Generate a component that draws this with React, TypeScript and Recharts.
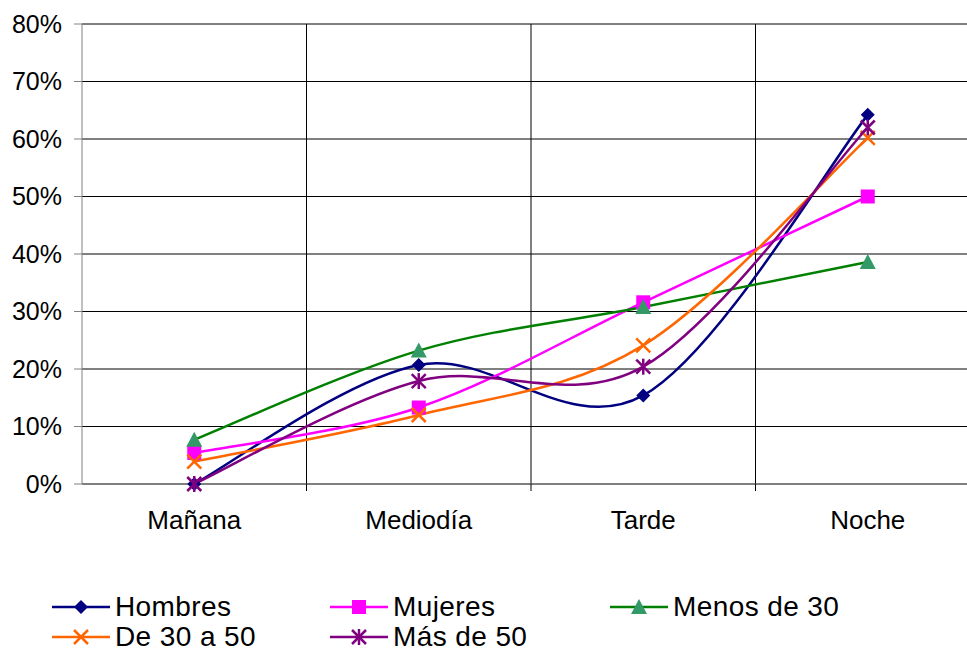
import React from 'react';
import { LineChart, Line, XAxis, YAxis, CartesianGrid } from 'recharts';

const categories = ['Mañana', 'Mediodía', 'Tarde', 'Noche'];
const hombres = [0, 20.7, 15.4, 64.2];
const mujeres = [5.4, 13.3, 31.6, 50];
const menos30 = [7.7, 23.2, 30.8, 38.6];
const de30a50 = [3.9, 12.0, 24.1, 60.2];
const mas50 = [0, 17.9, 20.4, 62.0];
const yTicks = [0, 10, 20, 30, 40, 50, 60, 70, 80];

const series = [
  { key: 'hombres', name: 'Hombres', values: hombres, stroke: '#000080', fill: '#000080', marker: 'diamond' },
  { key: 'mujeres', name: 'Mujeres', values: mujeres, stroke: '#FF00FF', fill: '#FF00FF', marker: 'square' },
  { key: 'menos30', name: 'Menos de 30', values: menos30, stroke: '#008000', fill: '#339966', marker: 'triangle' },
  { key: 'de30a50', name: 'De 30 a 50', values: de30a50, stroke: '#FF6600', fill: '#FF6600', marker: 'x' },
  { key: 'mas50', name: 'Más de 50', values: mas50, stroke: '#800080', fill: '#800080', marker: 'star' },
];

const data = categories.map((cat, i) => {
  const row: any = { cat };
  series.forEach(s => { row[s.key] = s.values[i]; });
  return row;
});

// layout
const CHART_W = 1000;
const CHART_H = 651;
const MARGIN = { top: 24, right: 20, left: 0, bottom: 127 };
const YAXIS_W = 82;
const BAND = (CHART_W - MARGIN.left - MARGIN.right - YAXIS_W) / categories.length;
const FONT = '"Liberation Sans", Arial, sans-serif';

// Excel-style smoothed line (cardinal spline, 1/6 tangents)
const excelCurve = (context: any) => {
  let pts: number[][] = [];
  return {
    areaStart() {},
    areaEnd() {},
    lineStart() { pts = []; },
    lineEnd() {
      const n = pts.length;
      if (!n) return;
      context.moveTo(pts[0][0], pts[0][1]);
      for (let i = 0; i < n - 1; i++) {
        const p0 = pts[Math.max(i - 1, 0)];
        const p1 = pts[i];
        const p2 = pts[i + 1];
        const p3 = pts[Math.min(i + 2, n - 1)];
        context.bezierCurveTo(
          p1[0] + (p2[0] - p0[0]) / 6, p1[1] + (p2[1] - p0[1]) / 6,
          p2[0] - (p3[0] - p1[0]) / 6, p2[1] - (p3[1] - p1[1]) / 6,
          p2[0], p2[1]
        );
      }
    },
    point(x: number, y: number) { pts.push([+x, +y]); },
  };
};

const Marker = ({ type, cx, cy, stroke, fill }: any) => {
  const s = 7;
  if (type === 'diamond') {
    return <polygon points={`${cx},${cy - s} ${cx + s},${cy} ${cx},${cy + s} ${cx - s},${cy}`} fill={fill} />;
  }
  if (type === 'square') {
    return <rect x={cx - s} y={cy - s} width={2 * s} height={2 * s} fill={fill} />;
  }
  if (type === 'triangle') {
    return <polygon points={`${cx},${cy - s - 1} ${cx + s + 1},${cy + s} ${cx - s - 1},${cy + s}`} fill={fill} />;
  }
  if (type === 'x') {
    return (
      <g stroke={stroke} strokeWidth={2.5}>
        <line x1={cx - s} y1={cy - s} x2={cx + s} y2={cy + s} />
        <line x1={cx - s} y1={cy + s} x2={cx + s} y2={cy - s} />
      </g>
    );
  }
  return (
    <g stroke={stroke} strokeWidth={2.5}>
      <line x1={cx - s} y1={cy - s} x2={cx + s} y2={cy + s} />
      <line x1={cx - s} y1={cy + s} x2={cx + s} y2={cy - s} />
      <line x1={cx} y1={cy - s - 1} x2={cx} y2={cy + s + 1} />
    </g>
  );
};

const CategoryTick = ({ x, y, payload }: any) => (
  <g>
    <line x1={x + BAND / 2} y1={y} x2={x + BAND / 2} y2={y + 7} stroke="#000" />
    <text x={x} y={y + 45} textAnchor="middle" fontFamily={FONT} fontSize={26} fill="#000">
      {payload.value}
    </text>
  </g>
);

const legendPos = [
  { left: 52, top: 592 },
  { left: 330, top: 592 },
  { left: 610, top: 592 },
  { left: 52, top: 622 },
  { left: 330, top: 622 },
];

export default function App() {
  return (
    <div style={{ position: 'fixed', left: 0, top: 0, width: 967, height: 651, overflow: 'hidden', background: '#fff' }}>
      <LineChart width={CHART_W} height={CHART_H} data={data} margin={MARGIN}>
        <CartesianGrid
          stroke="#000"
          verticalCoordinatesGenerator={({ offset }: any) =>
            [1, 2, 3, 4].map(i => offset.left + (i * offset.width) / categories.length)
          }
        />
        <XAxis
          dataKey="cat"
          scale="band"
          axisLine={{ stroke: '#808080' }}
          tickLine={false}
          tickSize={0}
          tickMargin={0}
          height={40}
          tick={<CategoryTick />}
          interval={0}
        />
        <YAxis
          domain={[0, 80]}
          ticks={yTicks}
          width={YAXIS_W}
          axisLine={{ stroke: '#808080' }}
          tickLine={{ stroke: '#808080' }}
          tickSize={8}
          tickMargin={12}
          tickFormatter={(v: number) => `${v}%`}
          tick={{ fontFamily: FONT, fontSize: 25, fill: '#000' }}
          interval={0}
        />
        {series.map(s => (
          <Line
            key={s.key}
            dataKey={s.key}
            name={s.name}
            type={excelCurve as any}
            stroke={s.stroke}
            strokeWidth={2.5}
            isAnimationActive={false}
            dot={(p: any) => <Marker key={`${s.key}-${p.index}`} type={s.marker} cx={p.cx} cy={p.cy} stroke={s.stroke} fill={s.fill} />}
            activeDot={false}
          />
        ))}
      </LineChart>
      {series.map((s, i) => (
        <div
          key={s.key}
          style={{
            position: 'absolute',
            left: legendPos[i].left,
            top: legendPos[i].top,
            height: 30,
            display: 'flex',
            alignItems: 'center',
            fontFamily: FONT,
            fontSize: 28,
            letterSpacing: 0.4,
            color: '#000',
            whiteSpace: 'nowrap',
          }}
        >
          <svg width={62} height={30} style={{ marginRight: 1 }}>
            <line x1={0} y1={15} x2={58} y2={15} stroke={s.stroke} strokeWidth={2.5} />
            <Marker type={s.marker} cx={29} cy={15} stroke={s.stroke} fill={s.fill} />
          </svg>
          {s.name}
        </div>
      ))}
    </div>
  );
}
